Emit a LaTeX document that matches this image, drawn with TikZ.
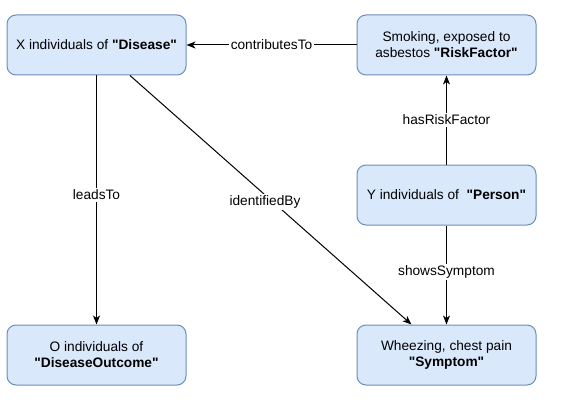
\documentclass[tikz,border=0pt]{standalone}
\usepackage{fontspec}
\setmainfont{Liberation Sans}
\usetikzlibrary{arrows.meta}
\definecolor{boxfill}{HTML}{DAE8FC}
\definecolor{boxline}{HTML}{6C8EBF}
\newcommand{\classname}[1]{\textbf{\textquotedbl#1\textquotedbl}}

\begin{document}
\begin{tikzpicture}[x=1pt,y=-1pt,
    entity/.style={draw=boxline,fill=boxfill,line width=1pt,rounded corners=9pt,
        minimum width=179pt,minimum height=60pt,align=center,inner sep=0pt,
        font=\fontsize{13.7}{16}\selectfont},
    rel/.style={-{Stealth[length=9pt,width=7pt,inset=2.5pt]},line width=1pt},
    lbl/.style={fill=white,inner sep=1.5pt,font=\fontsize{13.7}{16}\selectfont}]
    \useasboundingbox (0,0) rectangle (563,404);

    % Draw the individuals
    \node[entity] (disease) at (96.5,45) {X individuals of \classname{Disease}};
    \node[entity] (riskfactor) at (446.5,45) {Smoking, exposed to\\asbestos \classname{RiskFactor}};
    \node[entity] (person) at (446.5,195) {Y individuals of\ \ \classname{Person}};
    \node[entity] (outcome) at (96.5,355) {O individuals of\\\classname{DiseaseOutcome}};
    \node[entity] (symptom) at (446.5,355) {Wheezing, chest pain\\\classname{Symptom}};

    % Connect the individuals
    \draw[rel] (riskfactor) -- node[lbl] {contributesTo} (disease);
    \draw[rel] (disease) -- node[lbl,pos=0.48] {leadsTo} (outcome);
    \draw[rel] ([xshift=33.5pt]disease.south) -- node[lbl,pos=0.508,xshift=-8pt] {identifiedBy} ([xshift=-35pt]symptom.north);
    \draw[rel] (person) -- node[lbl] {hasRiskFactor} (riskfactor);
    \draw[rel] (person) -- node[lbl,pos=0.47] {showsSymptom} (symptom);
\end{tikzpicture}
\end{document}
